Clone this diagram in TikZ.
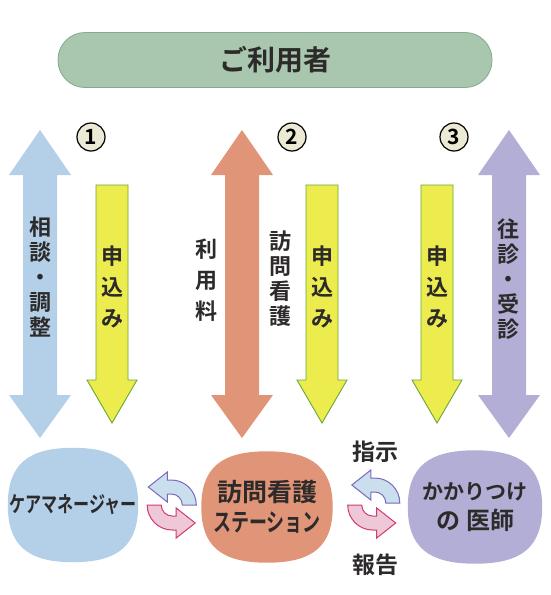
\documentclass[tikz,border=0pt]{standalone}
\usepackage{fontspec}
\usepackage{graphicx}
\setmainfont{Noto Sans CJK JP}[UprightFont={* Bold}]
\usetikzlibrary{calc,backgrounds}

\definecolor{txt}{RGB}{45,42,42}
\definecolor{barfill}{RGB}{168,199,174}
\definecolor{bardraw}{RGB}{132,170,142}
\definecolor{cmblue}{RGB}{180,207,232}
\definecolor{nsorange}{RGB}{224,148,120}
\definecolor{drpurple}{RGB}{178,174,214}
\definecolor{apyellow}{RGB}{236,236,78}
\definecolor{apgreen}{RGB}{104,168,52}
\definecolor{askfill}{RGB}{202,222,238}
\definecolor{askdraw}{RGB}{118,108,188}
\definecolor{repfill}{RGB}{238,200,216}
\definecolor{repdraw}{RGB}{208,58,108}
\definecolor{numfill}{RGB}{236,233,212}

\tikzset{
  party/.style={rectangle, inner sep=0pt, align=center, text=txt},
  vlabel/.style={align=center, text=txt, inner sep=0pt, font=\fontsize{22}{25}\selectfont},
  applabel/.style={vlabel, font=\fontsize{22}{31}\selectfont},
  numcircle/.style={circle, draw=black, line width=1.2pt, fill=numfill, minimum size=28pt, inner sep=0pt, font=\fontsize{21}{21}\selectfont},
  turnarrow/.pic={
    \path[pic actions] (0,0) .. controls (0,-13.8) and (-11.2,-25) .. (-25,-25) -- (-29,-25) -- (-29,-33)
      -- (-48,-18) -- (-29,-3) -- (-29,-11) -- (-25,-11) .. controls (-18.9,-11) and (-14,-6.1) .. (-14,0) -- cycle;
  }
}

\begin{document}
\begin{tikzpicture}[x=1pt, y=-1pt]
    \useasboundingbox (0,0) rectangle (551,595);

    \node[fill=barfill, draw=bardraw, line width=0.8pt, rounded corners=27pt, minimum width=434pt, minimum height=55pt,
          text=txt, font=\fontsize{28}{28}\selectfont] (user) at (275,60) {ご利用者};

    % two-way arrows
    \foreach \c/\col in {40/cmblue, 242/nsorange, 509/drpurple}
      \fill[\col] (\c,130) -- ({\c+31},175) -- ({\c+17},175) -- ({\c+17},395) -- ({\c+31},395) -- (\c,438)
        -- ({\c-31},395) -- ({\c-17},395) -- ({\c-17},175) -- ({\c-31},175) -- cycle;

    % application arrows
    \foreach \c in {112,322,437}
      \filldraw[fill=apyellow, draw=apgreen, line width=0.9pt] ({\c-16},185) -- ({\c+16},185) -- ({\c+16},380)
        -- ({\c+25},380) -- (\c,423) -- ({\c-25},380) -- ({\c-16},380) -- cycle;

    \node[numcircle] (n1) at (91,137) {1};
    \node[numcircle] (n2) at (292,137) {2};
    \node[numcircle] (n3) at (454,137) {3};

    \node[vlabel] (consult) at (40,277) {相\\談\\・\\調\\整};
    \node[applabel] (apply1) at (112,287) {申\\込\\み};
    \node[applabel] (fee) at (206,280) {利\\用\\料};
    \node[vlabel] (visit) at (280,279) {訪\\問\\看\\護};
    \node[applabel] (apply2) at (322,287) {申\\込\\み};
    \node[applabel] (apply3) at (437,287) {申\\込\\み};
    \node[vlabel] (exam) at (508,279) {往\\診\\・\\受\\診};

    \node[party, minimum width=130pt, minimum height=114pt, font=\fontsize{22}{22}\selectfont]
      (cm) at (73,505) {\scalebox{0.73}[1]{ケアマネージャー}};
    \node[party, minimum width=131pt, minimum height=111pt, font=\fontsize{25}{30}\selectfont]
      (ns) at (267,507) {訪問看護\\\scalebox{0.72}[1]{ステーション}};
    \node[party, minimum width=134pt, minimum height=113pt, font=\fontsize{21}{30}\selectfont]
      (dr) at (475,507) {かかりつけ\\{\fontsize{24}{30}\selectfont の\hspace{6pt}医師}};

    \begin{scope}[on background layer]
      \fill[white] (0,0) rectangle (551,595);
      % rounded blobs behind the three parties
      \foreach \n/\col in {cm/cmblue, ns/nsorange, dr/drpurple}
        \fill[\col] (\n.east) .. controls ($(\n.east)!0.7!(\n.north east)$) and ($(\n.north)!0.7!(\n.north east)$) .. (\n.north)
          .. controls ($(\n.north)!0.7!(\n.north west)$) and ($(\n.west)!0.7!(\n.north west)$) .. (\n.west)
          .. controls ($(\n.west)!0.7!(\n.south west)$) and ($(\n.south)!0.7!(\n.south west)$) .. (\n.south)
          .. controls ($(\n.south)!0.7!(\n.south east)$) and ($(\n.east)!0.7!(\n.south east)$) .. (\n.east) -- cycle;
    \end{scope}

    \pic[fill=askfill, draw=askdraw, line width=1pt] at ($(ns.west)+(-5,-2)$) {turnarrow};
    \pic[rotate=180, fill=repfill, draw=repdraw, line width=1pt] at ($(cm.east)+(9,0)$) {turnarrow};
    \pic[fill=askfill, draw=askdraw, line width=1pt] at ($(dr.west)+(-8,-4)$) {turnarrow};
    \pic[rotate=180, fill=repfill, draw=repdraw, line width=1pt] at ($(ns.east)+(15,-2)$) {turnarrow};

    \node[text=txt, font=\fontsize{23}{23}\selectfont] (order) at (375,452) {指示};
    \node[text=txt, font=\fontsize{23}{23}\selectfont] (report) at (375,565) {報告};
\end{tikzpicture}
\end{document}
